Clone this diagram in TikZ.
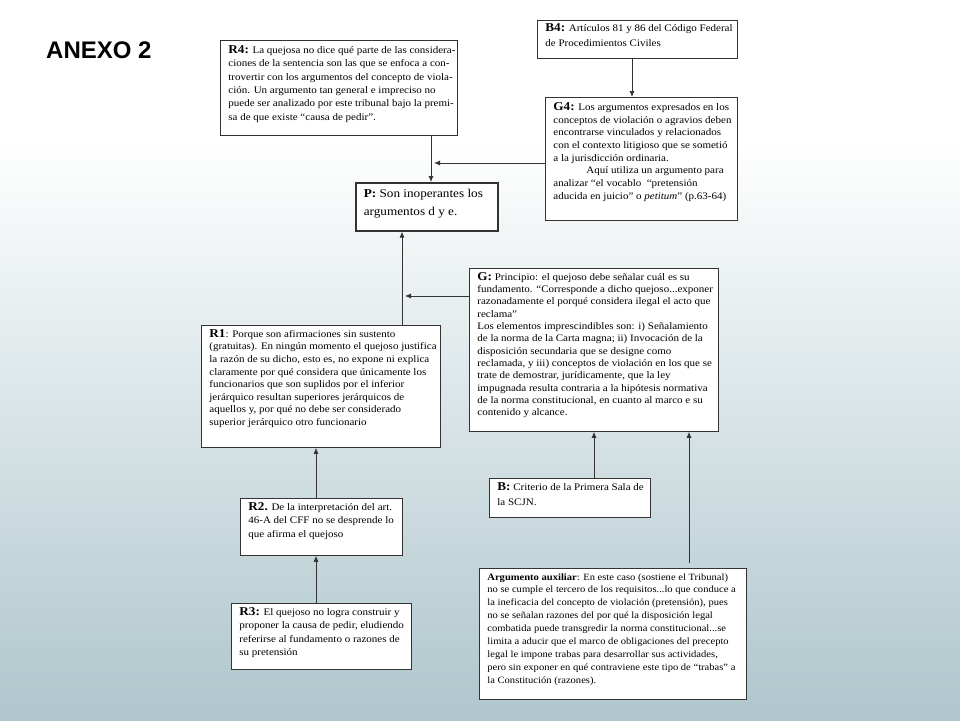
\documentclass[tikz,border=0pt]{standalone}
\usepackage{fontspec}
\setmainfont{Liberation Serif}[FakeStretch=1.1]
\newfontfamily\anexofont{Liberation Sans}
\usetikzlibrary{arrows.meta}
\definecolor{bgbottom}{HTML}{AEC6CC}
\definecolor{linegray}{HTML}{333333}
\newcommand{\lab}[1]{{\fontsize{12}{12}\selectfont\bfseries #1}}
% width, height, leading, top pad, text
\newcommand{\boxtext}[5]{\parbox[c][#2][t]{#1}{\fontsize{10}{#3}\selectfont\raggedright\leftskip=8pt\relax\vspace*{#4}#5}}
\begin{document}
\begin{tikzpicture}[x=1pt,y=-1pt,
  box/.style={draw=linegray, fill=white, line width=0.8pt, inner sep=0pt, anchor=north west},
  arr/.style={draw=linegray, line width=0.8pt, -{Latex[length=6pt,width=5pt]}}]
\useasboundingbox (0,0) rectangle (960,720);
\fill[white] (0,0) rectangle (960,720);
\shade[top color=white, bottom color=bgbottom] (0,140) rectangle (960,720);

\node[anchor=base west, inner sep=0pt, font=\anexofont\bfseries\fontsize{24}{24}\selectfont] (title) at (46,58) {ANEXO 2};

\node[box] (R4) at (220,40) {\boxtext{237pt}{95pt}{13.4pt}{5pt}{%
\lab{R4:} La quejosa no dice qué parte de las considera-\\
ciones de la sentencia son las que se enfoca a con-\\
trovertir con los argumentos del concepto de viola-\\
ción. Un argumento tan general e impreciso no\\
puede ser analizado por este tribunal bajo la premi-\\
sa de que existe “causa de pedir”.}};

\node[box] (B4) at (537,20) {\boxtext{200pt}{38pt}{15.5pt}{3pt}{%
\lab{B4:} Artículos 81 y 86 del Código Federal\\
de Procedimientos Civiles}};

\node[box] (G4) at (545,97) {\boxtext{192pt}{123pt}{12.7pt}{5pt}{%
\lab{G4:} Los argumentos expresados en los\\
conceptos de violación o agravios deben\\
encontrarse vinculados y relacionados\\
con el contexto litigioso que se sometió\\
a la jurisdicción ordinaria.\\
\hspace*{33pt}Aquí utiliza un argumento para\\
analizar “el vocablo \ “pretensión\\
aducida en juicio” o \emph{petitum}” (p.63-64)}};

\node[box, line width=1.6pt] (P) at (355,182) {\parbox[c][48pt][t]{142pt}{\fontsize{12}{18}\selectfont\raggedright\leftskip=8pt\relax\vspace*{6pt}%
\textbf{P:} Son inoperantes los\\
argumentos d y e.}};

\node[box] (G) at (469,268) {\boxtext{249pt}{163pt}{12.3pt}{4pt}{%
\lab{G:} Principio: el quejoso debe señalar cuál es su\\
fundamento. “Corresponde a dicho quejoso...exponer\\
razonadamente el porqué considera ilegal el acto que\\
reclama”\\
Los elementos imprescindibles son: i) Señalamiento\\
de la norma de la Carta magna; ii) Invocación de la\\
disposición secundaria que se designe como\\
reclamada, y iii) conceptos de violación en los que se\\
trate de demostrar, jurídicamente, que la ley\\
impugnada resulta contraria a la hipótesis normativa\\
de la norma constitucional, en cuanto al marco e su\\
contenido y alcance.}};

\node[box] (R1) at (201,325) {\boxtext{239pt}{122pt}{12.6pt}{4pt}{%
\lab{R1}: Porque son afirmaciones sin sustento\\
(gratuitas). En ningún momento el quejoso justifica\\
la razón de su dicho, esto es, no expone ni explica\\
claramente por qué considera que únicamente los\\
funcionarios que son suplidos por el inferior\\
jerárquico resultan superiores jerárquicos de\\
aquellos y, por qué no debe ser considerado\\
superior jerárquico otro funcionario}};

\node[box] (R2) at (240,498) {\boxtext{162pt}{57pt}{13.5pt}{4pt}{%
\lab{R2.} De la interpretación del art.\\
46-A del CFF no se desprende lo\\
que afirma el quejoso}};

\node[box] (B) at (489,478) {\boxtext{161pt}{39pt}{15pt}{4pt}{%
\lab{B:} Criterio de la Primera Sala de\\
la SCJN.}};

\node[box] (R3) at (231,603) {\boxtext{180pt}{66pt}{13.5pt}{4pt}{%
\lab{R3:} El quejoso no logra construir y\\
proponer la causa de pedir, eludiendo\\
referirse al fundamento o razones de\\
su pretensión}};

\node[box] (Arg) at (479,568) {\parbox[c][131pt][t]{267pt}{\fontsize{9.6}{12.9}\selectfont\raggedright\leftskip=8pt\relax\vspace*{5pt}%
\textbf{Argumento auxiliar}: En este caso (sostiene el Tribunal)\\
no se cumple el tercero de los requisitos...lo que conduce a\\
la ineficacia del concepto de violación (pretensión), pues\\
no se señalan razones del por qué la disposición legal\\
combatida puede transgredir la norma constitucional...se\\
limita a aducir que el marco de obligaciones del precepto\\
legal le impone trabas para desarrollar sus actividades,\\
pero sin exponer en qué contraviene este tipo de “trabas” a\\
la Constitución (razones).}};

% connectors
\coordinate (xa) at (431,0);
\coordinate (xb) at (402,0);
\coordinate (xc) at (632,0);
\coordinate (xd) at (316,0);
\coordinate (xe) at (594,0);
\coordinate (xf) at (689,0);
\coordinate (ja) at (434,163);
\coordinate (jb) at (405,296);
\coordinate (argtop) at ([yshift=5pt]Arg.north);

\draw[arr] (R4.south -| xa) -- (P.north -| xa);
\draw[arr] (G4.west |- ja) -- (ja);
\draw[arr] (B4.south -| xc) -- (G4.north -| xc);
\draw[arr] (R1.north -| xb) -- (P.south -| xb);
\draw[arr] (G.west |- jb) -- (jb);
\draw[arr] (R2.north -| xd) -- (R1.south -| xd);
\draw[arr] (R3.north -| xd) -- (R2.south -| xd);
\draw[arr] (B.north -| xe) -- (G.south -| xe);
\draw[arr] (argtop -| xf) -- (G.south -| xf);
\end{tikzpicture}
\end{document}
